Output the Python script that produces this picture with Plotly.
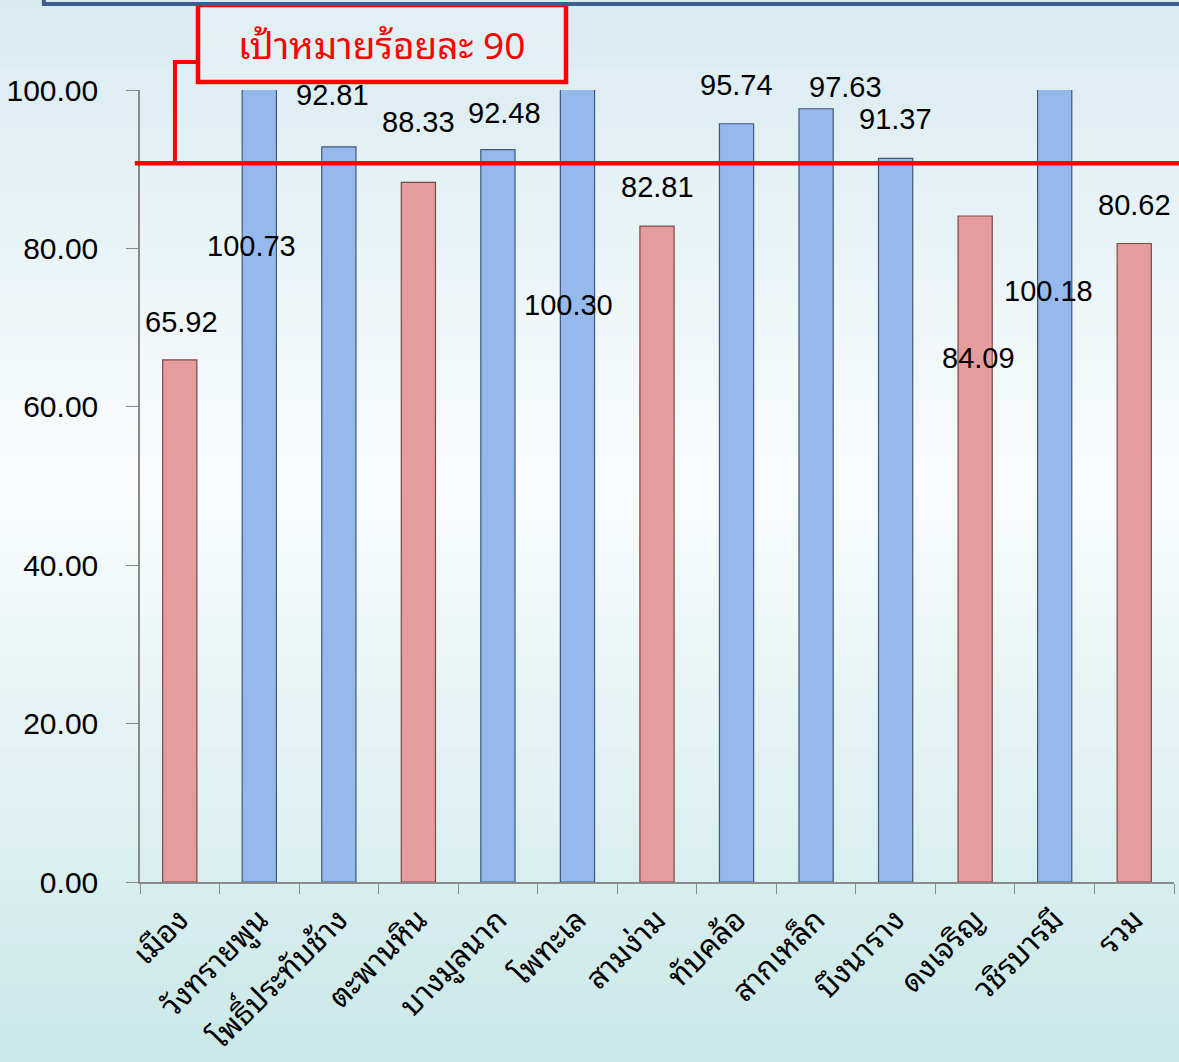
import plotly.graph_objects as go

categories = ["เมือง", "วังทรายพูน", "โพธิ์ประทับช้าง", "ตะพานหิน", "บางมูลนาก", "โพทะเล",
              "สามง่าม", "ทับคล้อ", "สากเหล็ก", "บึงนาราง", "ดงเจริญ", "วชิรบารมี", "รวม"]
values = [65.92, 100.73, 92.81, 88.33, 92.48, 100.30, 82.81, 95.74, 97.63, 91.37, 84.09, 100.18, 80.62]
target = 90
target_label = "เป้าหมายร้อยละ 90"
y_ticks = [0, 20, 40, 60, 80, 100]

# label placement offsets (pixels) - styling only
label_dx = [2, -8, -6, 0, 7, -9, 0, 0, 29, 0, 3, -6, 0]
label_dy = [38, -156, 52, 60, 37, -215, 39, 39, 22, 39, -142, -201, 38]

RED = "#E59C9C"
BLUE = "#95B9EC"
colors = [BLUE if v >= target else RED for v in values]
lines = ["#7A4A4A" if v < target else "#3F5878" for v in values]

FONT = "Liberation Sans, Noto Sans Thai Looped, Noto Sans Thai, Arial, sans-serif"
THAI_FONT = "Noto Sans Thai Looped, Liberation Sans, Noto Sans Thai, sans-serif"

fig = go.Figure()
fig.add_trace(go.Bar(
    x=categories, y=values,
    marker=dict(color=colors, line=dict(color=lines, width=1.2)),
    hoverinfo="x+y",
))

# gradient-like background via strips
top_c = (214, 234, 240)
mid_c = (250, 252, 253)
bot_c = (198, 231, 231)
n = 60
shapes = []
for i in range(n):
    t = i / (n - 1)  # 0 bottom -> 1 top
    if t < 0.55:
        s = t / 0.55
        c = tuple(int(bot_c[k] + (mid_c[k] - bot_c[k]) * s) for k in range(3))
    else:
        s = (t - 0.55) / 0.45
        c = tuple(int(mid_c[k] + (top_c[k] - mid_c[k]) * s) for k in range(3))
    shapes.append(dict(type="rect", xref="paper", yref="paper",
                       x0=-0.2, x1=1.1, y0=-0.3 + t * 1.45, y1=-0.3 + (t + 1 / (n - 1)) * 1.45 + 0.01,
                       fillcolor="rgb(%d,%d,%d)" % c, line=dict(width=0), layer="below"))

# target line
line_y = 90.75
line_py = line_y / 100.0
shapes.append(dict(type="line", xref="paper", yref="paper", x0=-0.005, x1=1.01, y0=line_py, y1=line_py,
                   line=dict(color="#FF0000", width=4.5)))
# connector
shapes.append(dict(type="line", xref="paper", yref="paper", x0=0.0338, x1=0.0338, y0=line_py, y1=1.0354,
                   line=dict(color="#FF0000", width=4)))
shapes.append(dict(type="line", xref="paper", yref="paper", x0=0.0318, x1=0.0561, y0=1.0354, y1=1.0354,
                   line=dict(color="#FF0000", width=4)))
# box
shapes.append(dict(type="rect", xref="paper", yref="paper", x0=0.0561, x1=0.412, y0=1.0101, y1=1.1073,
                   line=dict(color="#FF0000", width=4.5), fillcolor="rgba(230,243,246,0.6)"))
# top frame
shapes.append(dict(type="line", xref="paper", yref="paper", x0=-0.093, x1=1.05, y0=1.1086, y1=1.1086,
                   line=dict(color="#3E5F8A", width=4)))
shapes.append(dict(type="line", xref="paper", yref="paper", x0=-0.093, x1=-0.093, y0=1.106, y1=1.2,
                   line=dict(color="#3E5F8A", width=4)))

annotations = []
for c, v, dx, dy in zip(categories, values, label_dx, label_dy):
    annotations.append(dict(x=c, y=min(v, 100), xref="x", yref="y", text="%.2f" % v,
                            showarrow=False, xshift=dx, yshift=dy, yanchor="middle",
                            font=dict(size=29, color="#000000", family=FONT)))
annotations.append(dict(x=0.234, y=1.0606, xref="paper", yref="paper", text=target_label, showarrow=False,
                        xanchor="center", yanchor="middle",
                        font=dict(size=37, color="#FF0000", family=THAI_FONT)))

fig.update_layout(
    width=1179, height=1062,
    margin=dict(l=140, r=5, t=90, b=180),
    paper_bgcolor="#E3F1F4", plot_bgcolor="rgba(0,0,0,0)",
    showlegend=False, bargap=0.57,
    shapes=shapes, annotations=annotations,
    font=dict(family=FONT, color="#000000"),
)
fig.update_yaxes(range=[0, 100], tickvals=y_ticks, tickformat=".2f", showgrid=False,
                 showline=True, linecolor="#8A8A8A", linewidth=1.5, ticks="outside", ticklen=12,
                 tickcolor="#8A8A8A", ticklabelstandoff=22, automargin=False,
                 tickfont=dict(size=30, family=FONT), zeroline=False)
fig.update_xaxes(tickangle=-45, showgrid=False, showline=True, linecolor="#8A8A8A", linewidth=1.5,
                 ticks="outside", ticklen=10, tickcolor="#8A8A8A", tickson="boundaries",
                 ticklabelstandoff=6, automargin=False,
                 tickfont=dict(size=30.5, family=THAI_FONT))

fig.write_html("out.html", config={"displayModeBar": False},
               post_script="document.body.style.margin='0px';document.body.style.background='#E3F1F4';")
